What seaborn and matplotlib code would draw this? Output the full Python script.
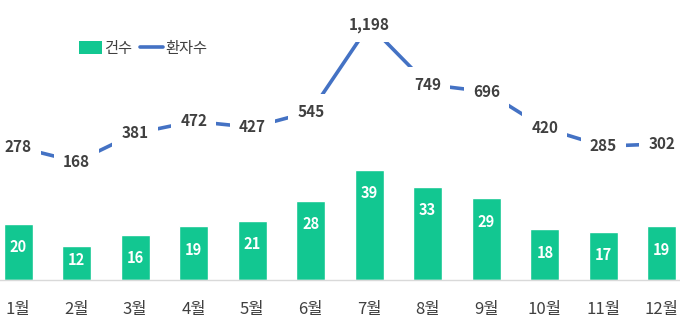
import numpy as np
import pandas as pd
import matplotlib
matplotlib.use("Agg")
import matplotlib.pyplot as plt
import seaborn as sns
from matplotlib.patches import Patch
from matplotlib.lines import Line2D

months = ["1월", "2월", "3월", "4월", "5월", "6월", "7월", "8월", "9월", "10월", "11월", "12월"]
cases = [20, 12, 16, 19, 21, 28, 39, 33, 29, 18, 17, 19]
patients = [278, 168, 381, 472, 427, 545, 1198, 749, 696, 420, 285, 302]
legend_labels = ["건수", "환자수"]

sns.set_theme(style="white")
plt.rcParams["font.family"] = ["Noto Sans CJK KR", "DejaVu Sans"]

BAR_C = "#12C791"
LINE_C = "#4472C4"
TXT_C = "#404040"

df = pd.DataFrame({"month": months, "cases": cases, "patients": patients,
                   "pos": np.arange(len(months))})

fig = plt.figure(figsize=(6.8, 3.28), dpi=100)
ax = fig.add_axes([0, 0.146, 1, 0.854])
sns.barplot(data=df, x="month", y="cases", color=BAR_C, width=0.5,
            saturation=1, ax=ax, zorder=2)
ax.set_xlim(-0.31, 11.31)
ax.set_ylim(0, 99)
for s in ["top", "left", "right"]:
    ax.spines[s].set_visible(False)
ax.spines["bottom"].set_color("#D9D9D9")
ax.spines["bottom"].set_linewidth(1.0)
ax.set_yticks([])
ax.set_xlabel("")
ax.set_ylabel("")
ax.tick_params(axis="x", length=0, pad=15, labelsize=12, labelcolor=TXT_C)

for i, v in enumerate(cases):
    ax.text(i, max(v - 8.3, 7.2), str(v), ha="center", va="center",
            color="white", fontsize=10.5, fontweight="bold", zorder=3)

ax2 = ax.twinx()
sns.lineplot(data=df, x="pos", y="patients", color=LINE_C, linewidth=2.6,
             ax=ax2, zorder=2)
ax2.set_ylim(-724, 1386)
ax2.set_xlim(-0.31, 11.31)
for s in ["top", "left", "right", "bottom"]:
    ax2.spines[s].set_visible(False)
ax2.set_yticks([])
ax2.set_ylabel("")
ax2.set_xlabel("")
for i, v in enumerate(patients):
    ax2.text(i, v, f"{v:,}", ha="center", va="center", color=TXT_C,
             fontsize=11, fontweight="bold", zorder=4,
             bbox=dict(boxstyle="square,pad=0.6", fc="white", ec="none"))

handles = [Patch(facecolor=BAR_C, edgecolor="none"),
           Line2D([0], [0], color=LINE_C, linewidth=2.6)]
fig.legend(handles, legend_labels, loc="center", bbox_to_anchor=(0.21, 0.853),
           ncol=2, frameon=False, fontsize=11, handlelength=1.5,
           handleheight=0.9, handletextpad=0.15, columnspacing=0.5,
           labelcolor=TXT_C)

fig.savefig("out.png", dpi=100)
